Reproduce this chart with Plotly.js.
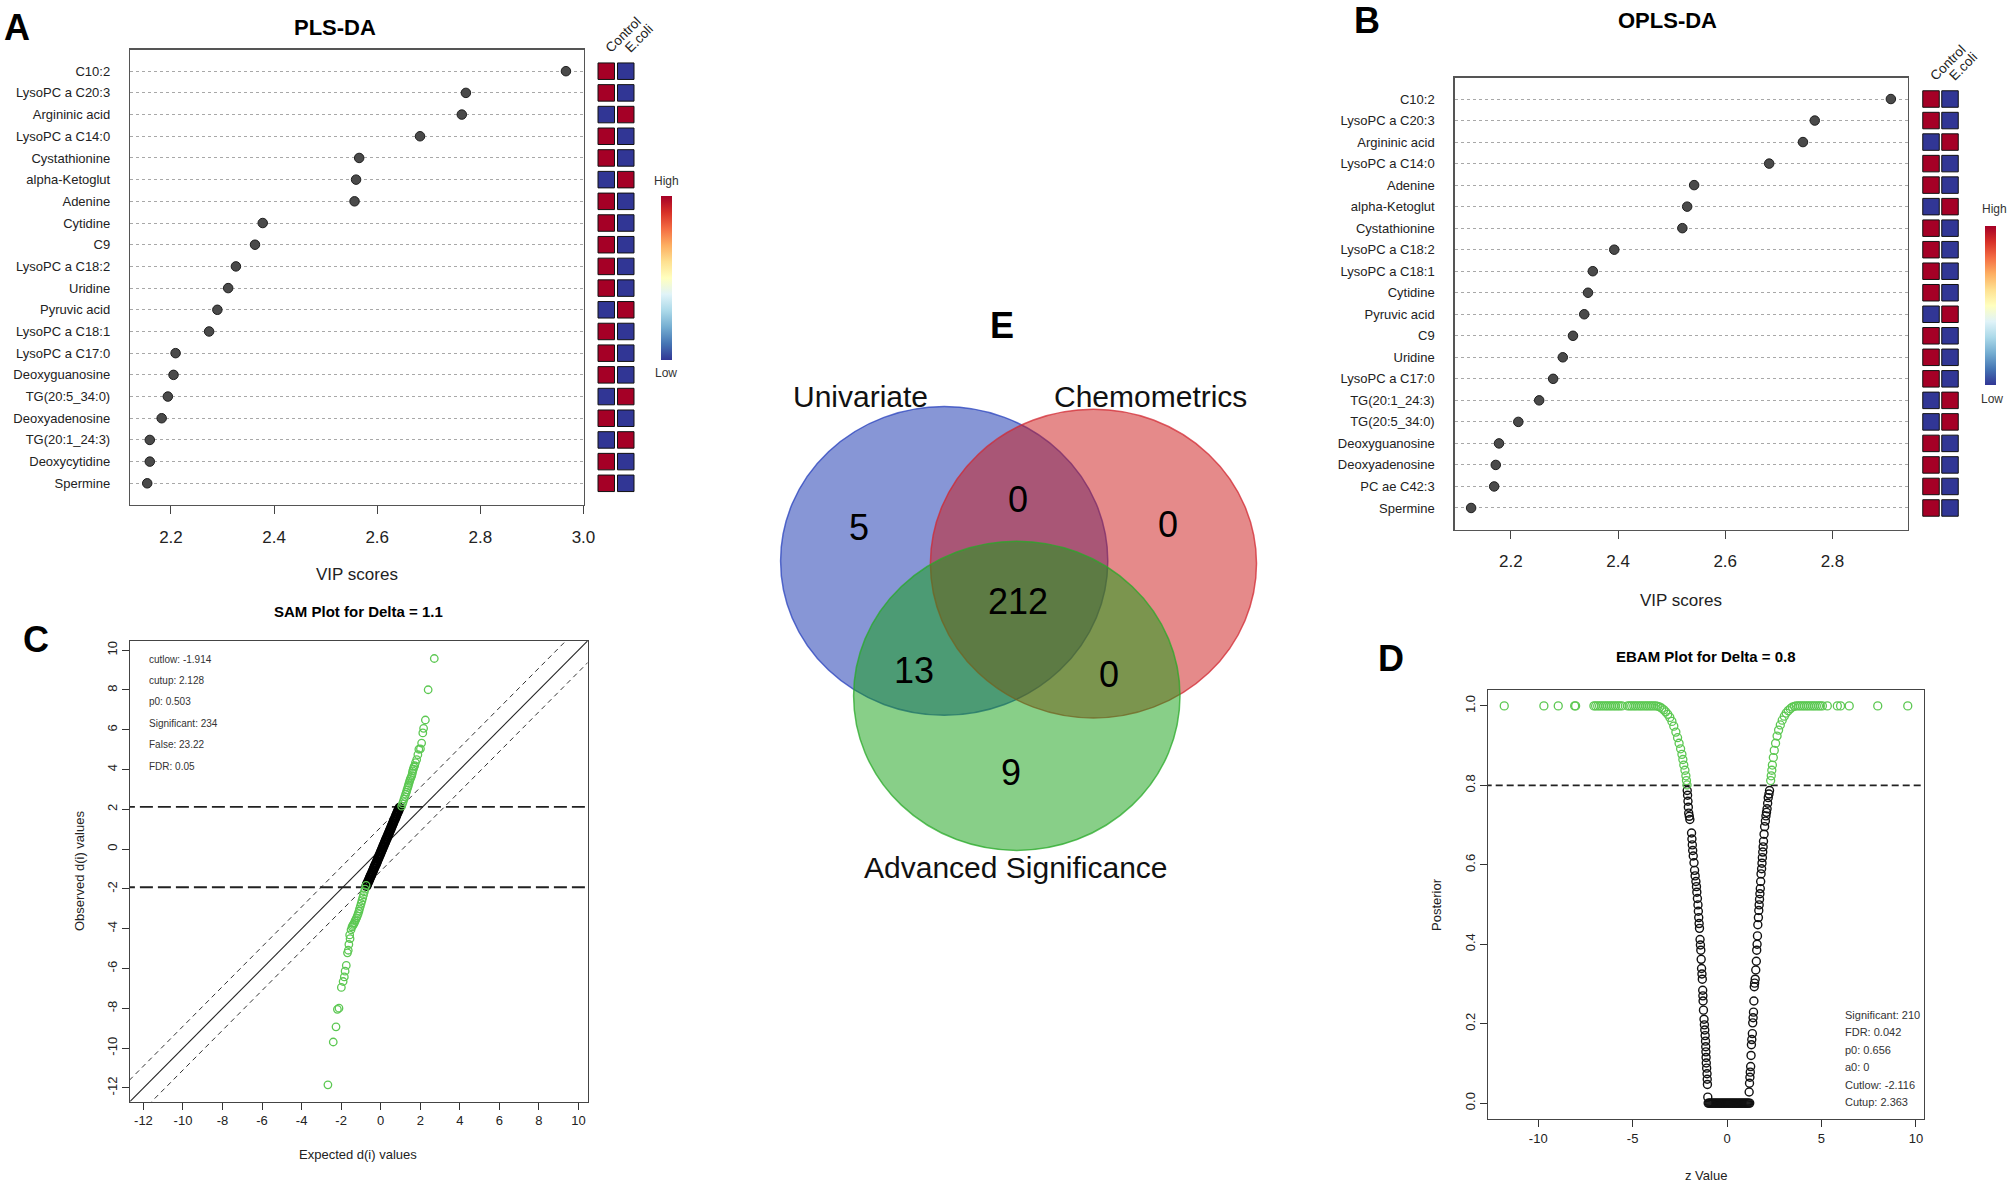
<!DOCTYPE html>
<html>
<head>
<meta charset="utf-8">
<script src="https://cdn.plot.ly/plotly-3.0.1.min.js"></script>
<style>
html,body{margin:0;padding:0;background:#ffffff;}
#chart{width:2008px;height:1185px;}
</style>
</head>
<body>
<div id="chart"></div>
<script>
// ================= DATA =================
// Panel A : PLS-DA VIP scores
const plsNames = ["C10:2","LysoPC a C20:3","Argininic acid","LysoPC a C14:0","Cystathionine","alpha-Ketoglut","Adenine","Cytidine","C9","LysoPC a C18:2","Uridine","Pyruvic acid","LysoPC a C18:1","LysoPC a C17:0","Deoxyguanosine","TG(20:5_34:0)","Deoxyadenosine","TG(20:1_24:3)","Deoxycytidine","Spermine"];
const plsVip = [2.966,2.772,2.764,2.683,2.565,2.559,2.556,2.378,2.363,2.326,2.311,2.290,2.274,2.209,2.205,2.194,2.182,2.159,2.159,2.154];
const plsControl = [1,1,0,1,1,0,1,1,1,1,1,0,1,1,1,0,1,0,1,1];   // 1 = high, 0 = low
const plsEcoli   = [0,0,1,0,0,1,0,0,0,0,0,1,0,0,0,1,0,1,0,0];

// Panel B : OPLS-DA VIP scores
const oplsNames = ["C10:2","LysoPC a C20:3","Argininic acid","LysoPC a C14:0","Adenine","alpha-Ketoglut","Cystathionine","LysoPC a C18:2","LysoPC a C18:1","Cytidine","Pyruvic acid","C9","Uridine","LysoPC a C17:0","TG(20:1_24:3)","TG(20:5_34:0)","Deoxyguanosine","Deoxyadenosine","PC ae C42:3","Spermine"];
const oplsVip = [2.909,2.767,2.745,2.682,2.542,2.529,2.520,2.393,2.353,2.344,2.337,2.316,2.297,2.279,2.253,2.214,2.178,2.172,2.169,2.126];
const oplsControl = [1,1,0,1,1,0,1,1,1,1,0,1,1,1,0,0,1,1,1,1];
const oplsEcoli   = [0,0,1,0,0,1,0,0,0,0,1,0,0,0,1,1,0,0,0,0];

const groups = ["Control","E.coli"];

// Panel C : SAM plot (expected vs observed d(i))
const samDelta = 1.1;
const samCutlow = -1.914;
const samCutup = 2.128;
const samTicks = [-12,-10,-8,-6,-4,-2,0,2,4,6,8,10];
const samStatLabels = ["cutlow:","cutup:","p0:","Significant:","False:","FDR:"];
const samStatValues = ["-1.914","2.128","0.503","234","23.22","0.05"];
const samUpExp = [1.06,1.10,1.14,1.18,1.22,1.26,1.30,1.33,1.37,1.40,1.43,1.46,1.49,1.53,1.57,1.60,1.62,1.65,1.68,1.72,1.76,1.82,1.88,1.93,2.01,2.07,2.13,2.17,2.26,2.40,2.71];
const samUpObs = [2.16,2.28,2.39,2.52,2.64,2.76,2.87,2.98,3.10,3.20,3.31,3.41,3.51,3.60,3.70,3.82,3.93,4.02,4.12,4.20,4.35,4.50,4.75,5.02,5.04,5.33,5.84,6.07,6.49,8.01,9.58];
const samLowExp = [-0.74,-0.79,-0.83,-0.87,-0.91,-0.95,-0.99,-1.03,-1.07,-1.10,-1.14,-1.18,-1.22,-1.26,-1.30,-1.33,-1.37,-1.41,-1.45,-1.50,-1.57,-1.55,-1.61,-1.64,-1.68,-1.74,-1.80,-1.84,-1.90,-1.99,-2.11,-2.19,-2.26,-2.40,-2.67];
const samLowObs = [-1.82,-2.01,-2.15,-2.30,-2.45,-2.59,-2.73,-2.87,-3.00,-3.12,-3.24,-3.35,-3.45,-3.54,-3.62,-3.70,-3.77,-3.83,-3.90,-4.05,-4.31,-4.50,-4.79,-5.08,-5.21,-5.84,-6.13,-6.42,-6.65,-6.95,-7.99,-8.05,-8.93,-9.69,-11.84];
const samNsExp = [-0.72,-0.69,-0.66,-0.62,-0.58,-0.54,-0.50,-0.46,-0.42,-0.38,-0.34,-0.30,-0.26,-0.22,-0.18,-0.14,-0.10,-0.06,-0.02,0.02,0.06,0.10,0.14,0.18,0.22,0.26,0.30,0.34,0.38,0.42,0.46,0.50,0.54,0.58,0.62,0.66,0.70,0.74,0.78,0.82,0.86,0.90,0.95];
const samNsObs = [-1.85,-1.76,-1.70,-1.61,-1.52,-1.42,-1.33,-1.25,-1.15,-1.06,-0.96,-0.87,-0.78,-0.70,-0.60,-0.49,-0.41,-0.31,-0.22,-0.12,-0.03,0.07,0.16,0.26,0.35,0.45,0.54,0.63,0.73,0.82,0.92,1.01,1.11,1.21,1.30,1.40,1.49,1.58,1.68,1.78,1.87,1.96,2.08];

// Panel D : EBAM plot (z value vs posterior)
const ebamDelta = 0.8;
const ebamXTicks = [-10,-5,0,5,10];
const ebamStatLabels = ["Significant:","FDR:","p0:","a0:","Cutlow:","Cutup:"];
const ebamStatValues = ["210","0.042","0.656","0","-2.116","2.363"];
const ebamSigZ = [-11.8,-9.70,-8.94,-8.07,-8.02,-7.05,-6.96,-6.85,-6.75,-6.64,-6.53,-6.42,-6.32,-6.21,-6.11,-6.00,-5.90,-5.79,-5.69,-5.57,-5.26,-5.15,-5.05,-4.94,-4.84,-4.73,-4.62,-4.52,-4.41,-4.30,-4.20,-4.09,-3.99,-3.88,-3.77,
  -3.66,-3.56,-3.46,-3.35,-3.25,-3.14,-3.03,-2.92,-2.82,-2.71,-2.62,-2.54,-2.46,-2.39,-2.34,-2.29,-2.23,-2.18,-2.15,-2.12,
  2.31,2.34,2.37,2.40,2.45,2.50,2.57,2.65,2.73,2.82,2.92,3.03,3.13,3.24,3.35,3.46,3.57,
  3.67,3.78,3.88,3.99,4.09,4.20,4.30,4.41,4.52,4.62,4.73,4.84,4.94,5.05,5.31,5.84,6.01,6.47,7.98,9.57];
const ebamSigPost = [1,1,1,1,1,1,1,1,1,1,1,1,1,1,1,1,1,1,1,1,1,1,1,1,1,1,1,1,1,1,1,1,1,1,1,
  0.999,0.997,0.994,0.990,0.985,0.979,0.971,0.961,0.949,0.934,0.920,0.906,0.892,0.878,0.865,0.851,0.838,0.824,0.812,0.801,
  0.812,0.824,0.838,0.851,0.870,0.888,0.906,0.924,0.939,0.952,0.964,0.974,0.982,0.988,0.993,0.997,0.999,
  1,1,1,1,1,1,1,1,1,1,1,1,1,1,1,1,1,1,1,1];
const ebamNsZ = [-2.11,-2.09,-2.07,-2.05,-2.03,-2.00,-1.97,-1.88,-1.86,-1.84,-1.82,-1.79,-1.75,-1.72,-1.69,-1.65,-1.62,-1.60,-1.57,-1.54,-1.52,-1.50,-1.48,-1.46,-1.43,-1.41,-1.39,-1.37,-1.35,-1.33,-1.31,-1.29,-1.28,-1.27,-1.25,-1.22,-1.20,-1.18,-1.16,-1.14,-1.13,-1.12,-1.11,-1.10,-1.08,-1.06,-1.05,-1.04,-1.02,
  -1.00,-0.95,-0.90,-0.85,-0.80,-0.75,-0.70,-0.65,-0.60,-0.55,-0.50,-0.45,-0.40,-0.35,-0.30,-0.25,-0.20,-0.15,-0.10,-0.05,0.00,0.05,0.10,0.15,0.20,0.25,0.30,0.35,0.40,0.45,0.50,0.55,0.60,0.65,0.70,0.75,0.80,0.85,0.90,0.95,1.00,1.05,1.10,1.15,1.20,
  1.17,1.19,1.21,1.23,1.25,1.27,1.29,1.31,1.34,1.36,1.38,1.40,1.42,1.44,1.46,1.49,1.52,1.55,1.57,1.59,1.61,1.63,1.66,1.68,1.70,1.72,1.74,1.76,1.78,1.80,1.83,1.85,1.87,1.89,1.91,1.93,1.96,1.99,2.03,2.06,2.09,2.12,2.15,2.18,2.22,2.25];
const ebamNsPost = [0.787,0.775,0.760,0.745,0.730,0.722,0.714,0.680,0.665,0.650,0.636,0.622,0.605,0.586,0.572,0.558,0.545,0.531,0.515,0.499,0.483,0.467,0.452,0.440,0.412,0.398,0.385,0.362,0.339,0.325,0.312,0.284,0.270,0.257,0.234,0.211,0.197,0.184,0.170,0.156,0.142,0.129,0.115,0.101,0.088,0.074,0.060,0.047,0.015,
  0,0,0,0,0,0,0,0,0,0,0,0,0,0,0,0,0,0,0,0,0,0,0,0,0,0,0,0,0,0,0,0,0,0,0,0,0,0,0,0,0,0,0,0,0,
  0.028,0.050,0.065,0.078,0.092,0.120,0.147,0.160,0.175,0.202,0.215,0.229,0.257,0.293,0.302,0.312,0.335,0.357,0.385,0.400,0.421,0.449,0.467,0.485,0.499,0.513,0.527,0.540,0.558,0.577,0.590,0.604,0.618,0.632,0.645,0.659,0.677,0.696,0.710,0.723,0.732,0.741,0.755,0.769,0.778,0.787];

// Panel E : Venn diagram
const vennSets = ["Univariate","Chemometrics","Advanced Significance"];
const vennCounts = [5,0,0,212,13,0,9]; // U only, U&C, C only, all, U&A, C&A, A only

// ================= HELPERS / STYLE =================
const W = 2008, H = 1185;
const X = p => p / W;
const Y = p => 1 - p / H;
const FONT = "Liberation Sans, Arial, Helvetica, sans-serif";
const INK = "#1a1a1a";
const rdylbu = [[0,"#313695"],[0.1,"#4575b4"],[0.2,"#74add1"],[0.3,"#abd9e9"],[0.4,"#e0f3f8"],[0.5,"#ffffbf"],[0.6,"#fee090"],[0.7,"#fdae61"],[0.8,"#f46d43"],[0.9,"#d73027"],[1,"#a50026"]];
const GREEN = "#5cc852";

function heatTrace(names, ctrl, eco, xa, ya, cb) {
  const x = [], y = [], c = [];
  names.forEach((n, i) => {
    x.push(groups[0]); y.push(n); c.push(ctrl[i]);
    x.push(groups[1]); y.push(n); c.push(eco[i]);
  });
  return {type:"scatter", mode:"markers", x, y, xaxis:xa, yaxis:ya, hoverinfo:"skip",
    marker:{symbol:"square", size:16.5, color:c, cmin:0, cmax:1, colorscale:rdylbu,
      line:{color:"#111", width:1}, showscale:true, colorbar:cb}};
}
function cbar(xl, ytop, ybot) {
  return {x:X(xl), xanchor:"left", y:Y((ytop+ybot)/2), yanchor:"middle",
    len:(ybot-ytop), lenmode:"pixels", thickness:11, thicknessmode:"pixels",
    xpad:0, ypad:0, outlinewidth:0, showticklabels:false, ticks:""};
}
function lineTrace(xs, ys, xa, ya, width, dash, color) {
  return {type:"scatter", mode:"lines", x:xs, y:ys, xaxis:xa, yaxis:ya, hoverinfo:"skip",
    line:{color:color, width:width, dash:dash}};
}
function ann(text, px, py, size, o) {
  o = o || {};
  return {text:text, x:X(px), y:Y(py), xref:"paper", yref:"paper", showarrow:false,
    xanchor:o.xanchor || "center", yanchor:o.yanchor || "middle", textangle:o.angle || 0,
    font:{family:FONT, size:size, color:o.color || INK, weight:o.weight || "normal"}};
}

// ================= TRACES =================
const traces = [];
// A
traces.push({type:"scatter", mode:"markers", x:plsVip, y:plsNames, xaxis:"x", yaxis:"y",
  marker:{size:9.5, color:"#4a4a4a", line:{color:"#1e1e1e", width:1}}, hoverinfo:"x+y"});
traces.push(heatTrace(plsNames, plsControl, plsEcoli, "x2", "y2", cbar(661, 196, 360)));
// B
traces.push({type:"scatter", mode:"markers", x:oplsVip, y:oplsNames, xaxis:"x3", yaxis:"y3",
  marker:{size:9.5, color:"#4a4a4a", line:{color:"#1e1e1e", width:1}}, hoverinfo:"x+y"});
traces.push(heatTrace(oplsNames, oplsControl, oplsEcoli, "x4", "y4", cbar(1985, 226, 385)));
// C
const lim = [-14, 12];
traces.push(lineTrace(lim, lim, "x5", "y5", 1.1, "solid", "#222"));
traces.push(lineTrace(lim, lim.map(v => v + samDelta), "x5", "y5", 1, "5px,4px", "#333"));
traces.push(lineTrace(lim, lim.map(v => v - samDelta), "x5", "y5", 1, "5px,4px", "#333"));
traces.push(lineTrace(lim, [samCutup, samCutup], "x5", "y5", 1.8, "13px,5px", "#222"));
traces.push(lineTrace(lim, [samCutlow, samCutlow], "x5", "y5", 1.8, "13px,5px", "#222"));
traces.push({type:"scatter", mode:"markers", x:samNsExp, y:samNsObs, xaxis:"x5", yaxis:"y5",
  marker:{symbol:"circle-open", size:8, color:"#000", line:{width:2.2}}});
traces.push({type:"scatter", mode:"markers", x:samUpExp.concat(samLowExp), y:samUpObs.concat(samLowObs), xaxis:"x5", yaxis:"y5",
  marker:{symbol:"circle-open", size:7.5, color:GREEN, line:{width:1.3}}});
// D
traces.push(lineTrace(lim, [ebamDelta, ebamDelta], "x6", "y6", 1.8, "7px,4px", "#222"));
traces.push({type:"scatter", mode:"markers", x:ebamNsZ, y:ebamNsPost, xaxis:"x6", yaxis:"y6",
  marker:{symbol:"circle-open", size:8, color:"#111", line:{width:1.4}}});
traces.push({type:"scatter", mode:"markers", x:ebamSigZ, y:ebamSigPost, xaxis:"x6", yaxis:"y6",
  marker:{symbol:"circle-open", size:8, color:GREEN, line:{width:1.3}}});

// ================= AXES =================
const boxLine = {showline:true, mirror:true, linecolor:"#555", linewidth:1.2, zeroline:false, showgrid:false};
function vipX(d, r) {
  return Object.assign({domain:[X(d[0]), X(d[1])], range:r, tickmode:"linear", tick0:2.2, dtick:0.2,
    tickformat:".1f", ticks:"outside", ticklen:8, tickcolor:"#444", tickwidth:1,
    tickfont:{family:FONT, size:17, color:"#222"}, ticklabelstandoff:8}, boxLine);
}
function vipY(d, names) {
  return Object.assign({}, boxLine, {domain:[Y(d[1]), Y(d[0])], type:"category", categoryorder:"array",
    categoryarray:names, range:[20, -1], ticks:"", showgrid:true, griddash:"dot", gridcolor:"#a8a8a8",
    gridwidth:1, tickfont:{family:FONT, size:13, color:"#222"}, ticklabelstandoff:16});
}
function heatX(d, posPx) {
  return {domain:[X(d[0]), X(d[1])], type:"category", categoryorder:"array", categoryarray:groups,
    range:[-0.5, 1.5], side:"top", anchor:"free", position:Y(posPx), ticks:"", tickangle:-45,
    showline:false, showgrid:false, zeroline:false, tickfont:{family:FONT, size:13.5, color:"#222"}};
}
function heatY(d, names) {
  return {domain:[Y(d[1]), Y(d[0])], type:"category", categoryorder:"array", categoryarray:names,
    range:[20, -1], visible:false, showgrid:false, zeroline:false};
}
function numAxis(d, r, tv, tt, isY, angle) {
  return Object.assign({domain:isY ? [Y(d[1]), Y(d[0])] : [X(d[0]), X(d[1])], range:r, tickmode:"array",
    tickvals:tv, ticktext:tt, ticks:"outside", ticklen:7, tickcolor:"#333", tickwidth:1,
    tickangle:angle || 0, tickfont:{family:FONT, size:13, color:"#222"}}, boxLine, {linecolor:"#444"});
}
const ebamYTicks = [0, 0.2, 0.4, 0.6, 0.8, 1.0];

// ================= VENN SHAPES =================
const shapes = [
  {type:"circle", xref:"paper", yref:"paper", x0:X(780.6), x1:X(1107.8), y0:Y(715.3), y1:Y(406.5),
    fillcolor:"rgba(15,45,173,0.5)", line:{color:"rgba(40,65,190,0.75)", width:1.5}},
  {type:"circle", xref:"paper", yref:"paper", x0:X(930.4), x1:X(1256.5), y0:Y(718), y1:Y(409.2),
    fillcolor:"rgba(203,21,21,0.5)", line:{color:"rgba(210,40,50,0.75)", width:1.5}},
  {type:"circle", xref:"paper", yref:"paper", x0:X(853.6), x1:X(1180), y0:Y(850.4), y1:Y(541.2),
    fillcolor:"rgba(17,159,17,0.5)", line:{color:"rgba(40,170,40,0.75)", width:1.5}}
];

// ================= ANNOTATIONS =================
const annotations = [];
// panel letters
[["A",17,27],["B",1367,20],["C",36,639],["D",1391,658],["E",1002,325]].forEach(a =>
  annotations.push(ann(a[0], a[1], a[2], 36, {weight:"bold", color:"#000"})));
// titles
annotations.push(ann("PLS-DA", 335, 28, 22, {weight:"bold", color:"#000"}));
annotations.push(ann("OPLS-DA", 1667, 21, 22, {weight:"bold", color:"#000"}));
annotations.push(ann("SAM Plot for Delta = " + samDelta, 358, 611, 15, {weight:"bold", color:"#000"}));
annotations.push(ann("EBAM Plot for Delta = " + ebamDelta, 1706, 656, 15, {weight:"bold", color:"#000"}));
// axis titles
annotations.push(ann("VIP scores", 357, 574, 17, {color:"#222"}));
annotations.push(ann("VIP scores", 1681, 600, 17, {color:"#222"}));
annotations.push(ann("Expected d(i) values", 358, 1154, 13, {color:"#222"}));
annotations.push(ann("Observed d(i) values", 79, 871, 13, {color:"#222", angle:-90}));
annotations.push(ann("z Value", 1706, 1175, 13, {color:"#222"}));
annotations.push(ann("Posterior", 1436, 905, 13, {color:"#222", angle:-90}));
// High / Low
annotations.push(ann("High", 666, 181, 12, {color:"#333"}));
annotations.push(ann("Low", 666, 373, 12, {color:"#333"}));
annotations.push(ann("High", 1994, 209, 12, {color:"#333"}));
annotations.push(ann("Low", 1992, 399, 12, {color:"#333"}));
// SAM stats
samStatLabels.forEach((l, i) => annotations.push(ann(l + " " + samStatValues[i], 147, 659 + i * 21.4, 10, {xanchor:"left", color:"#333"})));
// EBAM stats
ebamStatLabels.forEach((l, i) => annotations.push(ann(l + " " + ebamStatValues[i], 1843, 1015 + i * 17.4, 11, {xanchor:"left", color:"#333"})));
// Venn labels
const vennLabelPos = [[860.5,396.5],[1150.5,396.5],[1015.5,867.5]];
vennSets.forEach((s, i) => annotations.push(ann(s, vennLabelPos[i][0], vennLabelPos[i][1], 30, {color:"#111"})));
const vennCountPos = [[858.8,527.7],[1018,499.5],[1168,524.5],[1018,601.2],[914,670.4],[1108.5,674.3],[1011,772.1]];
vennCounts.forEach((c, i) => annotations.push(ann(String(c), vennCountPos[i][0], vennCountPos[i][1], 36, {color:"#000"})));

// ================= LAYOUT =================
const layout = {
  width:W, height:H, margin:{l:0, r:0, t:0, b:0}, paper_bgcolor:"#fff", plot_bgcolor:"rgba(0,0,0,0)",
  showlegend:false, font:{family:FONT, color:INK}, hovermode:"closest",
  xaxis:vipX([130,584], [2.1206, 3.001]),
  yaxis:vipY([49.5,505], plsNames),
  xaxis2:heatX([596.5,635.5], 58),
  yaxis2:heatY([49.5,505], plsNames),
  xaxis3:vipX([1454.5,1907.5], [2.095, 2.94]),
  yaxis3:vipY([77.5,529.5], oplsNames),
  xaxis4:heatX([1921.5,1959.5], 86),
  yaxis4:heatY([77.5,529.5], oplsNames),
  xaxis5:numAxis([130,587.5], [-12.68, 10.46], samTicks, samTicks.map(String), false),
  yaxis5:numAxis([641,1101.5], [-12.68, 10.46], samTicks, samTicks.map(String), true, -90),
  xaxis6:numAxis([1488,1924], [-12.66, 10.43], ebamXTicks, ebamXTicks.map(String), false),
  yaxis6:numAxis([690,1119], [-0.04, 1.04], ebamYTicks, ebamYTicks.map(v => v.toFixed(1)), true, -90),
  shapes:shapes,
  annotations:annotations
};
layout.xaxis.anchor = "y"; layout.yaxis.anchor = "x";
layout.yaxis2.anchor = "x2";
layout.xaxis3.anchor = "y3"; layout.yaxis3.anchor = "x3";
layout.yaxis4.anchor = "x4";
layout.xaxis5.anchor = "y5"; layout.yaxis5.anchor = "x5";
layout.xaxis6.anchor = "y6"; layout.yaxis6.anchor = "x6";

Plotly.newPlot("chart", traces, layout, {displayModeBar:false, staticPlot:true});
</script>
</body>
</html>
